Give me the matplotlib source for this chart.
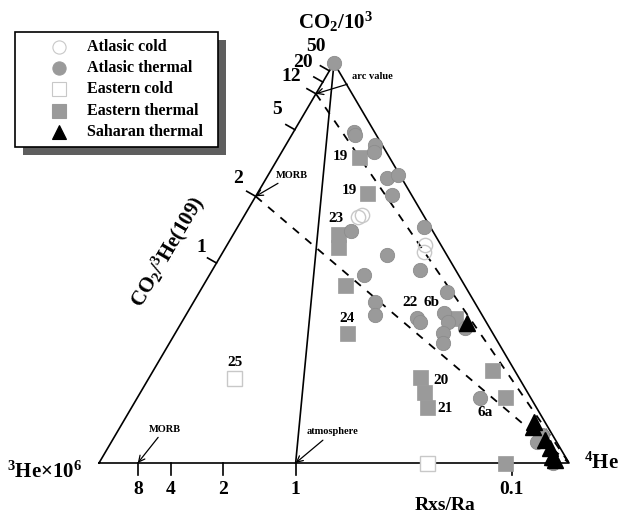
import numpy as np
import matplotlib
matplotlib.use('Agg')
import matplotlib.pyplot as plt
from matplotlib.patches import Rectangle

plt.rcParams['font.family'] = 'Liberation Serif'
plt.rcParams['font.weight'] = 'bold'
plt.rcParams['mathtext.fontset'] = 'custom'
plt.rcParams['mathtext.rm'] = 'Liberation Serif:bold'
plt.rcParams['mathtext.it'] = 'Liberation Serif:bold'
plt.rcParams['mathtext.bf'] = 'Liberation Serif:bold'

# samples as fractions of CO2/10^3 and 4He; 3He x10^6 is the rest
atl_thermal_co2 = [1.000, 0.828, 0.820, 0.795, 0.778, 0.713, 0.720, 0.670, 0.580, 0.590,
                   0.520, 0.483, 0.470, 0.428, 0.403, 0.370, 0.363, 0.353, 0.375, 0.353,
                   0.325, 0.300, 0.338, 0.163, 0.070, 0.053, 0.000]
atl_thermal_he4 = [0.000, 0.129, 0.135, 0.190, 0.196, 0.256, 0.276, 0.288, 0.246, 0.397,
                   0.353, 0.442, 0.329, 0.527, 0.386, 0.402, 0.495, 0.507, 0.547, 0.566,
                   0.569, 0.582, 0.610, 0.729, 0.908, 0.906, 0.966]

atl_cold_co2 = [0.620, 0.615, 0.545, 0.528]
atl_cold_he4 = [0.250, 0.244, 0.421, 0.428]

east_thermal_co2 = [0.765, 0.675, 0.573, 0.540, 0.445, 0.325, 0.363, 0.233, 0.165,
                    0.215, 0.178, 0.140, 0.000]
east_thermal_he4 = [0.171, 0.233, 0.222, 0.239, 0.301, 0.365, 0.576, 0.720, 0.781,
                    0.576, 0.603, 0.628, 0.864]

east_cold_co2 = [0.213, 0.000]
east_cold_he4 = [0.181, 0.698]

sah_thermal_co2 = [0.350, 0.103, 0.090, 0.058, 0.038, 0.015, 0.008]
sah_thermal_he4 = [0.608, 0.874, 0.878, 0.920, 0.941, 0.956, 0.966]

# edge scales
co2_he3_ticks = [50, 20, 12, 5, 2, 1]     # CO2/3He (x10^9) on the left side
rxs_ticks = [8, 4, 2, 1, 0.1]             # Rxs/Ra on the base
RA = 1.39                                 # atmospheric 3He/4He (x10^6)
arc_value = 12
morb_ratio = 2
morb_r = 8

# label offsets (pixels) for the left-side ticks, crowded near the apex
co2_he3_label_dx = [-13, -20, -25, -18, -18, -15]
co2_he3_label_dy = [24, 20, 17, 20, 18, 16]

# sample numbers written next to points (pixel positions)
sample_ids = ['19', '19', '23', '24', '22', '6b', '20', '21', '6a', '25']
sample_x = [340, 349, 336, 347, 410, 431, 441, 445, 485, 235]
sample_y = [157, 190, 218, 318, 303, 303, 380, 409, 413, 362]

H = np.sqrt(3) / 2
GRAY = '#9a9a9a'
LIGHT = '#c8c8c8'


def to_xy(co2, he4):
    co2 = np.asarray(co2, float)
    he4 = np.asarray(he4, float)
    return he4 + co2 / 2, co2 * H


def left_edge(r):
    return to_xy(r / (1.0 + r), 0.0)


def base_edge(r):
    return to_xy(0.0, 1.0 / (1.0 + RA * r))


fig = plt.figure(figsize=(6.24, 5.15), dpi=100)

# pixel overlay for free text and the key
lax = fig.add_axes([0, 0, 1, 1])
lax.set_xlim(0, 624)
lax.set_ylim(515, 0)
lax.axis('off')

ax = fig.add_axes([99 / 624, 52 / 515, 470 / 624, 400 / 515])
ax.set_xlim(0, 1)
ax.set_ylim(0, H)
ax.axis('off')

# triangle frame and atmosphere line
ax.plot([0, 1, 0.5, 0], [0, 0, H, 0], color='k', lw=1.2, clip_on=False, zorder=2)
bx, by = base_edge(1)
ax.plot([bx, 0.5], [by, H], color='k', lw=1.2, clip_on=False, zorder=2)

# mixing lines to the 4He corner
for r in [arc_value, morb_ratio]:
    lx, ly = left_edge(r)
    ax.plot([lx, 1], [ly, 0], color='k', lw=1.3, ls=(0, (4.5, 4.5)), zorder=2)

# ticks on the left side
nx, ny = -0.866, 0.5
for r, dx, dy in zip(co2_he3_ticks, co2_he3_label_dx, co2_he3_label_dy):
    x, y = left_edge(r)
    ax.plot([x, x + 0.022 * nx], [y, y + 0.022 * ny], color='k', lw=1.2, clip_on=False)
    ax.annotate(f'{r:g}', (x, y), xytext=(dx, dy), textcoords='offset pixels',
                ha='center', va='center', fontsize=14)

# ticks on the base
for r in rxs_ticks:
    x, y = base_edge(r)
    ax.plot([x, x], [0, -0.026], color='k', lw=1.2, clip_on=False)
    ax.annotate(f'{r:g}', (x, 0), xytext=(0, -27), textcoords='offset pixels',
                ha='center', va='center', fontsize=14)

# reference arrows
arrow = dict(arrowstyle='->', color='k', lw=0.9, shrinkA=1, shrinkB=0, mutation_scale=11)
ax.annotate('MORB', base_edge(morb_r), xytext=(27, 34), textcoords='offset pixels',
            ha='center', va='center', fontsize=7.5, arrowprops=arrow)
ax.annotate('atmosphere', base_edge(1), xytext=(37, 31), textcoords='offset pixels',
            ha='center', va='center', fontsize=7.5, arrowprops=arrow)
ax.annotate('MORB', left_edge(morb_ratio), xytext=(36, 21), textcoords='offset pixels',
            ha='center', va='center', fontsize=7.5, arrowprops=arrow)
ax.annotate('arc value', left_edge(arc_value), xytext=(56, 17), textcoords='offset pixels',
            ha='center', va='center', fontsize=7.5, arrowprops=arrow)

# samples
x, y = to_xy(east_thermal_co2, east_thermal_he4)
ax.plot(x, y, 's', ms=10.8, mfc=GRAY, mec=GRAY, mew=0.5, ls='none', clip_on=False, zorder=3)
x, y = to_xy(east_cold_co2, east_cold_he4)
ax.plot(x, y, 's', ms=10.8, mfc='white', mec=LIGHT, mew=1.0, ls='none', clip_on=False, zorder=3)
x, y = to_xy(atl_thermal_co2, atl_thermal_he4)
ax.plot(x, y, 'o', ms=10.3, mfc=GRAY, mec='#8c8c8c', mew=0.6, ls='none', clip_on=False, zorder=4)
x, y = to_xy(atl_cold_co2, atl_cold_he4)
ax.plot(x, y, 'o', ms=10.3, mfc='none', mec=LIGHT, mew=1.0, ls='none', clip_on=False, zorder=4)
x, y = to_xy(sah_thermal_co2, sah_thermal_he4)
ax.plot(x, y, '^', ms=11, mfc='k', mec='k', ls='none', clip_on=False, zorder=5)

for s, sx, sy in zip(sample_ids, sample_x, sample_y):
    lax.text(sx, sy, s, ha='center', va='center', fontsize=11)

# axis names
lax.text(335, 22, 'CO$_2$/10$^3$', ha='center', va='center', fontsize=15)
lax.text(45, 472, '$^3$He\u00d710$^6$', ha='center', va='center', fontsize=15)
lax.text(601, 463, '$^4$He', ha='center', va='center', fontsize=15)
lax.text(445, 506, 'Rxs/Ra', ha='center', va='center', fontsize=14)
lax.text(168, 252, 'CO$_2$/$^3$He(109)', ha='center', va='center', fontsize=15,
         rotation=59.5, rotation_mode='anchor')

# key with drop shadow
lax.add_patch(Rectangle((23, 40), 203, 115, fc='#5e5e5e', ec='none'))
lax.add_patch(Rectangle((15, 32), 203, 115, fc='white', ec='k', lw=1.2))
key = [('Atlasic cold', 'o', 'white', LIGHT),
       ('Atlasic thermal', 'o', GRAY, GRAY),
       ('Eastern cold', 's', 'white', LIGHT),
       ('Eastern thermal', 's', GRAY, GRAY),
       ('Saharan thermal', '^', 'k', 'k')]
for i, (name, m, fc, ec) in enumerate(key):
    ky = 47 + i * 21.2
    lax.plot(59, ky, m, ms=9.5, mfc=fc, mec=ec, mew=0.8)
    lax.text(87, ky, name, ha='left', va='center', fontsize=11.5)

fig.savefig('out.png', dpi=100)
